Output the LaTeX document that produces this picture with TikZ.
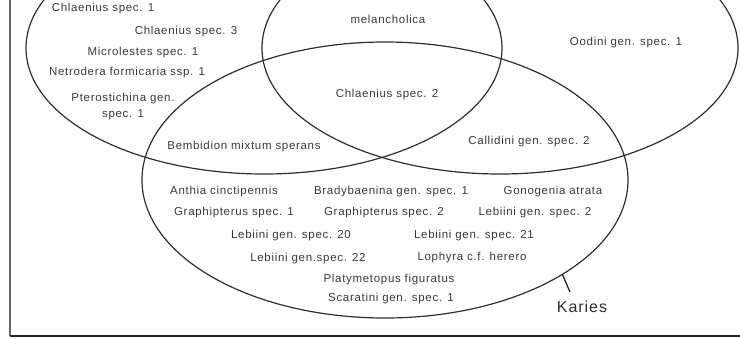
\documentclass[tikz,border=0pt]{standalone}
\usepackage{fontspec}
\setmainfont{Liberation Sans}
\newfontfamily\taxonfont[LetterSpace=6]{Liberation Sans}
\usetikzlibrary{shapes.geometric}

\begin{document}
\begin{tikzpicture}[x=1pt,y=-1pt,
  setring/.style={ellipse, draw=black!82, line width=1.2pt, inner sep=0pt, outer sep=0pt},
  taxon/.style={font=\taxonfont\fontsize{11.5}{16}\selectfont, text=black!78, inner sep=0pt, align=center},
  sitelabel/.style={font=\taxonfont\fontsize{16}{18}\selectfont, text=black!82, inner sep=0pt},
  frameline/.style={line width=2pt}]
\useasboundingbox (0,0) rectangle (740,338);

% frame of the plot area
\coordinate (frameTop) at (10,0);
\coordinate (frameCorner) at (10,336);
\coordinate (frameRight) at (740,336);
\draw[frameline, black!60] (frameTop) -- (frameCorner);
\draw[frameline, black!85] (frameCorner) -- (frameRight);

% the three sets
\node[setring, minimum width=476pt, minimum height=252pt] (setA) at (264,48) {};
\node[setring, minimum width=476pt, minimum height=252pt] (setB) at (500,48) {};
\node[setring, minimum width=486pt, minimum height=276pt] (setC) at (385,180) {};

% set A only
\node[taxon] (chl1) at (103,9) {Chlaenius spec. 1};
\node[taxon] (chl3) at (186,32) {Chlaenius spec. 3};
\node[taxon] (micro) at (143,53) {Microlestes spec. 1};
\node[taxon] (netro) at (127,73) {Netrodera formicaria ssp. 1};
\node[taxon] (ptero) at (123,107) {Pterostichina gen.\\spec. 1};

% A and B
\node[taxon] (melan) at (388,19) {melancholica};

% A, B and C
\node[taxon] (chl2) at (387,95) {Chlaenius spec. 2};

% A and C
\node[taxon] (bemb) at (244,147) {Bembidion mixtum sperans};

% B only
\node[taxon] (oodini) at (626,43) {Oodini gen. spec. 1};

% B and C
\node[taxon] (callid) at (529,142) {Callidini gen. spec. 2};

% C only
\node[taxon] (anthia) at (224,192) {Anthia cinctipennis};
\node[taxon] (brady) at (391,192) {Bradybaenina gen. spec. 1};
\node[taxon] (gono) at (553,192) {Gonogenia atrata};
\node[taxon] (graph1) at (234,213) {Graphipterus spec. 1};
\node[taxon] (graph2) at (384,213) {Graphipterus spec. 2};
\node[taxon] (leb2) at (535,213) {Lebiini gen. spec. 2};
\node[taxon] (leb20) at (291,236) {Lebiini gen. spec. 20};
\node[taxon] (leb21) at (474,236) {Lebiini gen. spec. 21};
\node[taxon] (leb22) at (308,259) {Lebiini gen.spec. 22};
\node[taxon] (lophyra) at (472,258) {Lophyra c.f. herero};
\node[taxon] (platy) at (389,280) {Platymetopus figuratus};
\node[taxon] (scara) at (391,299) {Scaratini gen. spec. 1};

% site label with its pointer
\node[sitelabel] (karies) at (582,307) {Karies};
\coordinate (kariesTick) at (570,292);
\draw[black!85, line width=1.3pt] (setC.-28) -- (kariesTick);
\end{tikzpicture}
\end{document}
